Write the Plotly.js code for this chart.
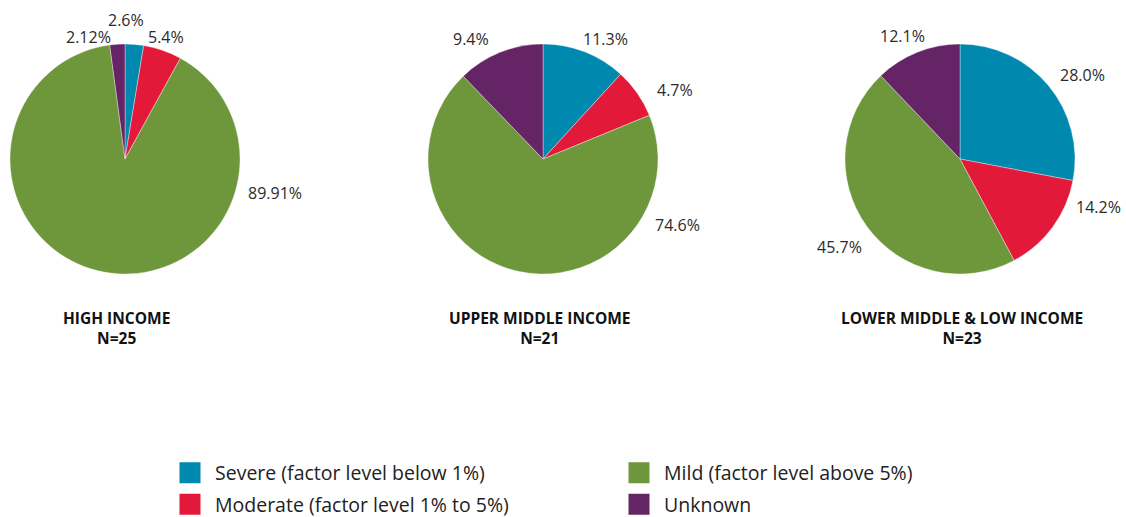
<!DOCTYPE html>
<html>
<head>
<meta charset="utf-8">
<script src="https://cdn.plot.ly/plotly-3.0.1.min.js"></script>
<style>html,body{margin:0;padding:0;background:#fff;overflow:hidden;}#chart{width:1126px;height:517px;}</style>
</head>
<body>
<div id="chart"></div>
<script>
// ---------------- Data ----------------
var categories = ["Severe (factor level below 1%)", "Moderate (factor level 1% to 5%)", "Mild (factor level above 5%)", "Unknown"];
var groupTitles = ["HIGH INCOME", "UPPER MIDDLE INCOME", "LOWER MIDDLE & LOW INCOME"];
var groupN = ["N=25", "N=21", "N=23"];
var highIncomeValues = [2.6, 5.4, 89.91, 2.12];
var highIncomeLabels = ["2.6%", "5.4%", "89.91%", "2.12%"];
var upperMiddleValues = [11.8, 7.0, 69.0, 12.2];
var upperMiddleLabels = ["11.3%", "4.7%", "74.6%", "9.4%"];
var lowerMiddleValues = [28.0, 14.2, 45.7, 12.1];
var lowerMiddleLabels = ["28.0%", "14.2%", "45.7%", "12.1%"];

// ---------------- Styles / layout constants ----------------
var colors = ["#0089AF", "#E3193A", "#6E973C", "#642465"];
var W = 1126, H = 517;
var pieCentersX = [125, 543, 960];
var pieCenterY = 159, pieR = 115;
// label placement (offset of each label centre from its pie centre, px)
var labelOffsets = [
  [[1, -139], [41, -122], [149.5, 34], [-37, -122]],
  [[62, -120], [131.5, -69], [134, 66], [-72, -120]],
  [[122, -84], [138, 48], [-121, 88], [-57.5, -123]]
];
var titleCentersX = [116.5, 540, 962];
var FONT = "'Open Sans', 'Noto Sans', sans-serif";

var allValues = [highIncomeValues, upperMiddleValues, lowerMiddleValues];
var allLabels = [highIncomeLabels, upperMiddleLabels, lowerMiddleLabels];

var data = [];
var annotations = [];
for (var i = 0; i < 3; i++) {
  data.push({
    type: "pie",
    labels: categories,
    values: allValues[i],
    text: allLabels[i],
    textinfo: "none",
    sort: false,
    direction: "clockwise",
    rotation: 0,
    marker: {colors: colors, line: {color: "rgba(255,255,255,0.6)", width: 0.6}},
    showlegend: false,
    hoverinfo: "none",
    domain: {
      x: [(pieCentersX[i] - pieR) / W, (pieCentersX[i] + pieR) / W],
      y: [1 - (pieCenterY + pieR) / H, 1 - (pieCenterY - pieR) / H]
    }
  });
  for (var k = 0; k < 4; k++) {
    annotations.push({
      text: allLabels[i][k],
      x: (pieCentersX[i] + labelOffsets[i][k][0]) / W,
      y: 1 - (pieCenterY + labelOffsets[i][k][1]) / H,
      xref: "paper", yref: "paper", xanchor: "center", yanchor: "middle",
      showarrow: false,
      font: {family: FONT, size: 16, color: "#2b2b2b"}
    });
  }
  annotations.push({
    text: "<b>" + groupTitles[i] + "</b><br><b>" + groupN[i] + "</b>",
    x: titleCentersX[i] / W, y: 1 - 328 / H, xref: "paper", yref: "paper",
    xanchor: "center", yanchor: "middle", showarrow: false, align: "center",
    font: {family: FONT, size: 15.5, color: "#111111"}
  });
}

// legend entries: row 1 (Severe, Mild), row 2 (Moderate, Unknown)
var legendRows = [[0, 2], [1, 3]];
legendRows.forEach(function (row, r) {
  row.forEach(function (ci) {
    data.push({
      type: "scatter",
      mode: "markers",
      x: [null], y: [null],
      name: categories[ci],
      marker: {symbol: "square", size: 16, color: colors[ci], line: {color: colors[ci], width: 5}},
      legend: r === 0 ? "legend" : "legend2",
      hoverinfo: "none"
    });
  });
});

var legendCommon = {
  orientation: "h",
  xanchor: "left",
  yanchor: "middle",
  x: 165 / W,
  itemwidth: 40,
  entrywidth: 394,
  entrywidthmode: "pixels",
  font: {family: FONT, size: 19.5, color: "#222222"},
  bgcolor: "rgba(0,0,0,0)",
  borderwidth: 0
};

var layout = {
  width: W, height: H,
  margin: {l: 0, r: 0, t: 0, b: 0, autoexpand: false},
  paper_bgcolor: "#ffffff",
  plot_bgcolor: "#ffffff",
  xaxis: {visible: false, domain: [0, 1]},
  yaxis: {visible: false, domain: [0, 1]},
  showlegend: true,
  legend: Object.assign({}, legendCommon, {y: 1 - 473 / H}),
  legend2: Object.assign({}, legendCommon, {y: 1 - 504.5 / H}),
  annotations: annotations
};

Plotly.newPlot("chart", data, layout, {displayModeBar: false, staticPlot: true});
</script>
</body>
</html>
